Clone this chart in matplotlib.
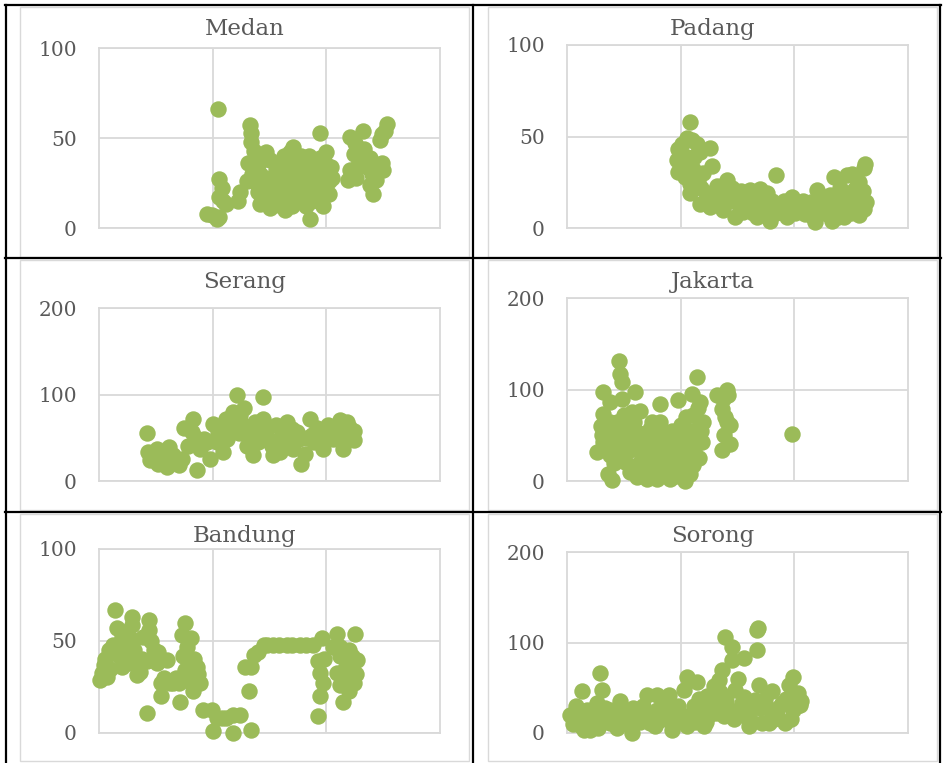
import numpy as np
import matplotlib.pyplot as plt
from matplotlib.lines import Line2D
from matplotlib.patches import Rectangle

W, H = 946, 763

cities = ['Medan', 'Padang', 'Serang', 'Jakarta', 'Bandung', 'Sorong']
y_max = [100, 100, 200, 200, 100, 200]

# (x, y) pairs for each station, x in 0..300
medan = [(105, 66), (95, 8), (99, 7), (103.5, 5), (106, 6), (106, 27), (108, 22), (106, 17),
         (112, 13.5), (109, 15), (124, 20), (122, 15), (130, 26), (133, 57), (134, 53),
         (134, 48), (136, 43), (131, 36), (139, 34), (147, 42), (142, 30), (144, 23),
         (142, 13.5), (150, 11), (147, 17), (156, 32), (155, 23), (162, 15), (164, 10),
         (159, 19), (168, 42), (171, 45), (169.5, 36), (166.5, 28), (174, 23), (177, 15),
         (180, 34), (183, 25), (186, 5), (187, 15), (190, 21), (194, 26), (194.5, 53),
         (194, 39), (199, 36), (204.5, 34), (202, 26), (202, 19), (197, 12), (191.5, 30),
         (186, 30), (221, 50.5), (232.5, 54), (219, 26.5), (221, 32), (224, 41), (230, 39),
         (235.5, 36), (235.5, 34), (238, 39), (241, 19), (238, 24), (244, 26.5), (249, 36),
         (250, 32), (247, 49), (249, 52), (253, 58), (251.5, 54), (227, 34), (225, 47),
         (152, 27), (160, 35), (175, 30), (185, 40), (165, 20), (195, 22), (140, 20),
         (170, 12), (180, 18), (150, 38), (135, 30), (138, 25), (143, 38), (146, 28),
         (148, 21), (153, 18), (157, 26), (158, 13), (161, 30), (163, 40), (167, 24),
         (172, 18), (173, 33), (176, 26), (178, 40), (182, 12), (184, 22), (188, 35),
         (192, 17), (198, 29), (200, 42), (205, 28), (143, 16), (226, 28), (233, 44), (240, 30)]

padang = [(108.5, 58), (98, 30.7), (97, 37), (98, 43), (101, 46), (105.5, 49), (110, 48),
          (114, 46), (126, 43.5), (105.5, 39), (112, 39), (117, 41.6), (127.5, 34), (120, 30),
          (108.5, 24), (108.5, 19), (117, 13), (123, 19), (126, 11.5), (132, 13), (132, 23),
          (140.5, 26), (143.5, 20.6), (146.6, 15), (148, 6), (152.6, 11.5), (158, 17),
          (161, 20.6), (164, 8), (167, 15), (170, 21.5), (173, 11.5), (176, 19), (179, 4),
          (182, 13), (183.5, 29), (187.7, 9.7), (190.6, 15), (193.5, 6), (198, 17),
          (199.4, 11.5), (205, 9.7), (209.7, 7.8), (214, 9.7), (218.5, 3.3), (220, 20.6),
          (223, 11.5), (228.7, 15), (233, 4), (234.5, 28), (237.5, 17), (240.5, 10.6),
          (243.5, 6), (246, 29), (251, 29.7), (255, 23), (258, 17), (261, 10.6), (256.6, 7),
          (261, 33), (262.5, 35), (252.5, 20.6), (228.7, 7.8), (167, 6), (208, 15),
          (115, 25), (135, 18), (155, 9), (185, 12), (215, 14), (245, 18),
          (100, 34), (104, 28), (111, 32), (118, 22), (121, 15), (129, 17), (137, 10),
          (141, 14), (145, 22), (150, 15), (153, 20), (157, 12), (162, 14), (166, 10),
          (171, 17), (175, 8), (180, 15), (184, 8), (189, 12), (195, 10), (201, 8), (204, 13),
          (211, 12), (216, 6), (222, 15), (226, 10), (231, 18), (236, 12), (240, 22),
          (243, 14), (248, 11), (253, 15), (257, 25), (260, 20), (263, 14), (250, 8), (238, 6)]

serang = [(42, 55.7), (43.5, 33.7), (45, 24), (50.7, 37.5), (52, 20), (57, 29.8), (59.5, 16),
          (62, 39.5), (65, 29.8), (70, 18), (73, 26), (74.5, 60.7), (83, 72), (81.7, 56.9),
          (86, 12.4), (89, 37.5), (92, 49), (98, 26), (100.5, 66), (103.5, 45), (109.5, 33.7),
          (112, 72), (115, 57), (118, 79.6), (121, 99.4), (124, 75.8), (127, 64.6), (128, 84),
          (131, 53), (135.7, 29.8), (137, 68), (144.6, 97.5), (144.6, 72), (147.5, 60.7),
          (150, 45), (153.5, 29.8), (156, 64.6), (159, 33.7), (162, 53), (165, 68), (168, 45),
          (171, 37.5), (174, 56.9), (178, 20), (181, 31.7), (185.6, 72), (187, 53),
          (191.5, 60.7), (194.4, 45), (197, 37.5), (201.7, 64.6), (206, 49), (209, 60.7),
          (212, 70.4), (215, 37.5), (218, 68), (219, 53), (222, 56.9), (224, 47), (203.6, 53),
          (110, 50), (140, 45), (130, 40), (120, 60), (48, 28), (55, 25), (60, 35), (66, 22),
          (78, 40), (85, 50), (95, 45), (105, 55), (108, 62), (113, 48), (118, 65), (123, 55),
          (133, 60), (138, 45), (142, 55), (148, 50), (152, 40), (158, 48), (163, 42),
          (170, 60), (176, 48), (183, 50), (189, 45), (195, 55), (199, 50), (205, 60),
          (210, 50), (216, 55), (220, 62), (224, 58)]

jakarta = [(45.5, 130.8), (47, 117), (48.4, 108), (32, 97), (38, 86), (60, 97), (32, 73),
           (26.4, 31.7), (30.8, 50), (32, 42.6), (35, 57), (38, 28), (36.4, 8), (39.3, 0.7),
           (44, 64.5), (45.5, 42.6), (50, 71.8), (53, 57), (51.3, 20.8), (55.7, 39), (58.6, 64.5),
           (64.5, 77), (66, 50), (61.6, 4.4), (70.3, 2.5), (68.8, 28), (73.3, 57), (77.7, 42.6),
           (82, 84.5), (82, 64.5), (83.5, 20.8), (79, 2.5), (88, 50), (91, 28), (91, 2.5),
           (97.7, 88), (97.7, 42.6), (100.7, 61), (103.6, 20.8), (103.6, 0), (107.3, 42.6),
           (108.5, 8), (110, 95), (114, 113.7), (111, 71.8), (117.3, 86), (114, 57),
           (118.7, 42.6), (108.5, 28), (132, 93.6), (136.4, 79), (141, 99), (142, 93.6),
           (141, 64.5), (138, 50), (136.4, 33.5), (143.7, 40.8), (143.7, 60.8), (198, 51.7),
           (120, 64.5), (97.7, 13.5), (75, 28), (61.6, 17), (53, 31.7), (67, 17), (85, 31.7),
           (94.6, 20.8), (100.7, 35.5), (111, 17), (104, 57), (67, 39), (76, 13.5),
           (40, 50), (48, 90), (42, 38), (58, 45), (90, 10), (80, 45),
           (30, 60), (34, 35), (38, 65), (41, 20), (46, 55), (49, 30), (52, 48), (55, 10),
           (57, 75), (60, 35), (63, 52), (66, 25), (70, 45), (72, 8), (75, 65), (78, 30),
           (80, 55), (83, 10), (86, 40), (88, 20), (92, 55), (95, 35), (96, 5), (99, 48),
           (102, 28), (105, 70), (106, 12), (109, 50), (112, 35), (115, 80), (116, 25),
           (118, 55), (139, 70), (137, 90)]

bandung = [(14, 67), (1, 29), (7, 30.4), (2.5, 32.5), (4, 37), (8.4, 45), (15.5, 57), (20, 52),
           (24.6, 47), (28.7, 63), (28.7, 58.8), (25.5, 41.6), (20, 36), (30, 50.6), (33.7, 38),
           (33.7, 31.6), (42, 10.8), (43.7, 61.5), (43.7, 56), (48.4, 45), (42, 38.9), (50.7, 38),
           (54.5, 27), (54.5, 19.9), (59.5, 39.8), (62.5, 27), (70, 27), (71.5, 17), (75.6, 59.7),
           (72.7, 53.3), (77, 47), (74, 41.6), (75.6, 34.4), (81.3, 51.5), (86, 36), (89, 27),
           (83, 22.6), (91.8, 12.7), (99, 12.7), (100.5, 0.9), (103.5, 8), (112, 8), (118, 0),
           (124, 10), (134, 1.8), (128.5, 36), (134, 36), (132, 22.6), (136, 42.5), (140, 44),
           (145, 47.7), (153.3, 47.7), (165, 47.7), (176.7, 47.7), (188.5, 47.7), (196, 51.5),
           (193, 38.9), (194.4, 32.5), (197.4, 27), (194.4, 19.9), (192.6, 9), (209.2, 54),
           (206, 47), (212, 47), (212, 41.6), (209, 32.5), (212, 26), (215, 17), (219.6, 22.6),
           (222.5, 41.6), (227, 39.8), (219.6, 32.5), (224, 27), (225, 54),
           (148, 47.7), (158, 47.7), (170, 47.7), (182, 47.7), (108, 8), (118, 10), (38, 40),
           (12, 48), (65, 27), (5, 40), (10, 35), (18, 42), (22, 55), (26, 38), (31, 45),
           (36, 33), (39, 52), (46, 50), (52, 44), (57, 30), (68, 30), (79, 28), (84, 40),
           (87, 32), (198, 40), (216, 35), (220, 45), (226, 32)]

sorong = [(13, 45.9), (10, 18.3), (8.8, 11), (14.7, 3.7), (20.5, 3.7), (17.6, 25.7), (29.3, 66.8),
          (30.8, 47.7), (26.4, 33), (32, 18.3), (38, 25.7), (46.9, 34.9), (44, 5.5), (52.8, 18.3),
          (57.2, 0), (61.6, 22), (70.4, 42.2), (79.2, 42.2), (73.3, 11), (83.6, 25.7), (89.5, 42.2),
          (92.4, 3.7), (96.8, 22), (105.6, 62.4), (102.6, 47.7), (105.6, 7.3), (114.4, 56.9),
          (111.4, 29.4), (120.2, 7.3), (123.2, 40.4), (129, 51.4), (133.3, 58.7), (136.3, 69.7),
          (139.3, 106.4), (145.2, 95.4), (145.2, 80.7), (143.7, 25.7), (137.8, 18.3),
          (148.1, 47.7), (155.5, 82.6), (154, 33), (159.8, 7.3), (157, 18.3), (167.2, 113.8),
          (168, 115.6), (167.2, 91.7), (168.7, 53.2), (165.8, 36.7), (171.6, 11), (180.4, 45.9),
          (178.9, 25.7), (177.5, 11), (189.2, 33), (192, 11), (195, 53.2), (199.1, 62.4),
          (203.5, 44), (205, 31), (199.1, 25.7), (133.3, 33), (117, 25.7), (79.2, 25.7),
          (49.9, 11), (38, 11), (23.5, 14.7), (60, 15), (90, 15), (125, 20), (150, 60),
          (185, 20), (200, 40), (5, 10), (3, 20), (8, 30), (12, 8), (18, 12), (22, 25), (27, 5),
          (33, 28), (36, 15), (42, 20), (48, 24), (54, 10), (58, 28), (64, 12), (67, 30),
          (72, 20), (77, 8), (82, 14), (86, 32), (93, 10), (98, 30), (102, 15), (108, 20),
          (113, 12), (116, 38), (122, 12), (126, 30), (131, 22), (135, 45), (140, 35),
          (147, 15), (151, 25), (156, 40), (161, 25), (163, 12), (170, 28), (174, 38),
          (182, 15), (186, 28), (193, 38), (197, 16), (202, 30), (206, 35)]

series = [medan, padang, serang, jakarta, bandung, sorong]

# pixel boxes (left, top, right, bottom)
plot_boxes = [(99, 48, 440, 228), (567, 45, 908, 228), (99, 308, 440, 481),
              (567, 298, 908, 481), (99, 549, 440, 733), (567, 552, 908, 733)]
chart_boxes = [(20, 7, 469, 257), (488, 7, 937, 257), (20, 260, 469, 510),
               (488, 260, 937, 510), (20, 514, 469, 761), (488, 514, 937, 761)]
title_base = [35, 35, 288, 288, 542, 542]

green = '#9BBB59'
grid_c = '#D9D9D9'
text_c = '#595959'

plt.rcParams['font.family'] = ['DejaVu Serif']

fig = plt.figure(figsize=(W / 100, H / 100), dpi=100)


def fx(px):
    return px / W


def fy(py):
    return 1 - py / H


for i, name in enumerate(cities):
    l, t, r, b = chart_boxes[i]
    fig.patches.append(Rectangle((fx(l), fy(b)), fx(r - l), (b - t) / H, transform=fig.transFigure,
                                 fill=False, edgecolor=grid_c, linewidth=1.0))
    fig.text(fx((l + r) / 2), fy(title_base[i]), name, ha='center', va='baseline',
             fontsize=16.5, color=text_c)

    l, t, r, b = plot_boxes[i]
    ax = fig.add_axes([fx(l), fy(b), fx(r - l), (b - t) / H])
    pts = np.array(series[i])
    ax.scatter(pts[:, 0], pts[:, 1], s=140, color=green, linewidths=0, clip_on=False, zorder=3)
    ax.set_xlim(0, 300)
    ax.set_ylim(0, y_max[i])
    ax.set_xticks([100, 200])
    ax.set_xticklabels([])
    ax.set_yticks([0, y_max[i] / 2, y_max[i]])
    ax.set_yticklabels(['0', str(y_max[i] // 2), str(y_max[i])])
    ax.tick_params(axis='both', length=0)
    ax.tick_params(axis='y', pad=16, labelsize=14.5, labelcolor=text_c)
    ax.grid(True, color=grid_c, linewidth=1.3)
    ax.set_axisbelow(True)
    for sp in ax.spines.values():
        sp.set_color(grid_c)
        sp.set_linewidth(1.3)

# table borders
for x in [6, 473, 940]:
    fig.lines.append(Line2D([fx(x), fx(x)], [fy(5), fy(763)], transform=fig.transFigure,
                            color='black', linewidth=1.6))
for y in [5, 258, 512]:
    fig.lines.append(Line2D([fx(5), fx(941)], [fy(y), fy(y)], transform=fig.transFigure,
                            color='black', linewidth=1.6))

fig.savefig('out.png', dpi=100)
